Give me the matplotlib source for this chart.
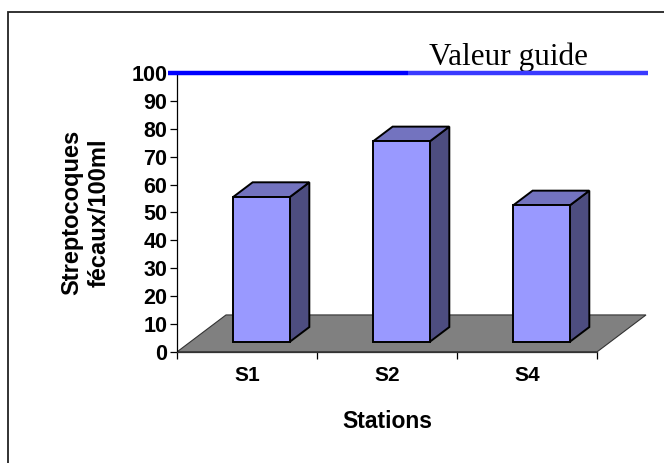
import matplotlib
matplotlib.use('Agg')
import matplotlib.pyplot as plt
from matplotlib.patches import Polygon, Rectangle

# data
stations = ['S1', 'S2', 'S4']
streptocoques = [52, 72, 49]
guide_value = 100
y_ticks = [0, 10, 20, 30, 40, 50, 60, 70, 80, 90, 100]

# colours
front_col = '#9999ff'
side_col = '#4d4d80'
top_col = '#7373bf'
floor_col = '#808080'

# fake 3d geometry (in data units)
depth_dx = 0.348    # floor depth along x (categories)
depth_dy = 13.2     # floor depth along y (value units)
bar_left, bar_right = 0.305, 0.71
f_front, f_back = 0.27, 0.67

fig = plt.figure(figsize=(6.64, 4.63), dpi=100)
ax = fig.add_axes([0.267, 0.2404, 0.6325, 0.6013])
ax.set_xlim(0, len(stations))
ax.set_ylim(0, 100)

# outer frame
fig.patches.append(Rectangle((0.0128, -0.05), 1.1, 1.024, transform=fig.transFigure,
                             fill=False, edgecolor='#222222', linewidth=1.3))

# floor
n = len(stations)
floor = Polygon([(0, 0), (n, 0), (n + depth_dx, depth_dy), (depth_dx, depth_dy)],
                closed=True, facecolor=floor_col, edgecolor='#333333', linewidth=0.8,
                clip_on=False, zorder=1)
ax.add_patch(floor)

# bars
for i, v in enumerate(streptocoques):
    xl = i + bar_left
    xr = i + bar_right
    sx0, sy0 = f_front * depth_dx, f_front * depth_dy
    sx1, sy1 = f_back * depth_dx, f_back * depth_dy
    side = Polygon([(xr + sx0, sy0), (xr + sx1, sy1), (xr + sx1, v + sy1), (xr + sx0, v + sy0)],
                   closed=True, facecolor=side_col, edgecolor='black', linewidth=1.4,
                   joinstyle='miter', clip_on=False, zorder=3)
    top = Polygon([(xl + sx0, v + sy0), (xr + sx0, v + sy0), (xr + sx1, v + sy1), (xl + sx1, v + sy1)],
                  closed=True, facecolor=top_col, edgecolor='black', linewidth=1.4,
                  joinstyle='miter', clip_on=False, zorder=3)
    front = Polygon([(xl + sx0, sy0), (xr + sx0, sy0), (xr + sx0, v + sy0), (xl + sx0, v + sy0)],
                    closed=True, facecolor=front_col, edgecolor='black', linewidth=1.4,
                    joinstyle='miter', clip_on=False, zorder=4)
    ax.add_patch(side)
    ax.add_patch(top)
    ax.add_patch(front)

# guide line
ax.plot([-0.066, 1.65], [guide_value, guide_value], color='#0000ff', linewidth=3.2,
        solid_capstyle='butt', clip_on=False, zorder=5)
ax.plot([1.65, 3.362], [guide_value, guide_value], color='#3a3aff', linewidth=3.2,
        solid_capstyle='butt', clip_on=False, zorder=5)
ax.text(1.8, guide_value + 3.0, 'Valeur guide', fontfamily='Liberation Serif',
        fontsize=22.5, ha='left', va='baseline', color='black')

# axes styling
for s in ['top', 'right']:
    ax.spines[s].set_visible(False)
ax.spines['left'].set_linewidth(0.9)
ax.spines['bottom'].set_linewidth(0.9)
ax.spines['bottom'].set_color('#333333')

ax.set_yticks(y_ticks)
ax.set_yticklabels([str(t) for t in y_ticks], fontfamily='Liberation Sans',
                   fontweight='bold', fontsize=15.5)
ax.tick_params(axis='y', direction='out', length=5, width=0.9, pad=2)

ax.set_xticks(range(n + 1))
ax.set_xticklabels([])
ax.set_xticks([i + 0.5 for i in range(n)], minor=True)
ax.set_xticklabels(stations, minor=True, fontfamily='Liberation Sans',
                   fontweight='bold', fontsize=15)
ax.tick_params(axis='x', which='major', direction='out', length=5, width=0.9)
ax.tick_params(axis='x', which='minor', length=0, pad=10)

ax.set_xlabel('Stations', fontfamily='Liberation Sans', fontweight='bold',
              fontsize=16.5, labelpad=18)
ax.set_ylabel('Streptocoques\nfécaux/100ml', fontfamily='Liberation Sans',
              fontweight='bold', fontsize=17, labelpad=15, linespacing=1.25)

ax.patch.set_visible(False)

fig.savefig('out.png', dpi=100)
